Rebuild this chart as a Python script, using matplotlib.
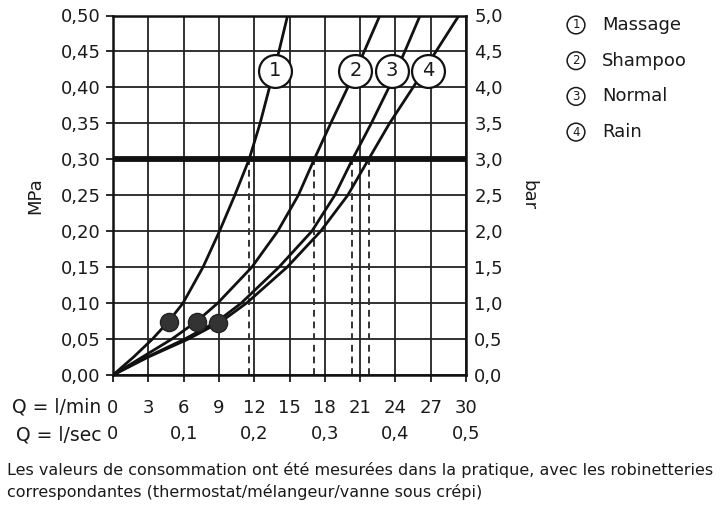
import numpy as np
import matplotlib
matplotlib.use("Agg")
import matplotlib.pyplot as plt
from matplotlib import transforms

# ---------------- data ----------------
series_names = ["Massage", "Shampoo", "Normal", "Rain"]
series_ids = ["1", "2", "3", "4"]

pressure_mpa = [0.0, 0.025, 0.05, 0.075, 0.10, 0.15, 0.20, 0.25, 0.30, 0.35, 0.40, 0.45, 0.50]
flow_massage = [0.0, 1.75, 3.35, 4.75, 5.95, 7.65, 9.05, 10.35, 11.57, 12.5, 13.3, 14.1, 14.84]
flow_shampoo = [0.0, 2.5, 5.0, 7.15, 8.9, 11.8, 14.0, 15.75, 17.1, 18.5, 19.95, 21.35, 22.68]
flow_normal = [0.0, 2.9, 6.1, 8.9, 10.9, 14.1, 16.9, 18.85, 20.35, 21.95, 23.45, 24.8, 26.1]
flow_rain = [0.0, 3.0, 6.4, 9.25, 11.35, 14.8, 17.65, 19.95, 21.72, 23.5, 25.5, 27.45, 29.4]
flows = [flow_massage, flow_shampoo, flow_normal, flow_rain]

dot_flow = [4.79, 7.17, 8.95]
dot_pressure = [0.074, 0.074, 0.073]

reference_pressure = 0.30
label_pressure = 0.423

q_lmin_ticks = [0, 3, 6, 9, 12, 15, 18, 21, 24, 27, 30]
q_lmin_labels = ["0", "3", "6", "9", "12", "15", "18", "21", "24", "27", "30"]
q_lsec_ticks = [0, 0.1, 0.2, 0.3, 0.4, 0.5]
q_lsec_labels = ["0", "0,1", "0,2", "0,3", "0,4", "0,5"]
mpa_ticks = [0.00, 0.05, 0.10, 0.15, 0.20, 0.25, 0.30, 0.35, 0.40, 0.45, 0.50]
mpa_labels = ["0,00", "0,05", "0,10", "0,15", "0,20", "0,25", "0,30", "0,35", "0,40", "0,45", "0,50"]
bar_ticks = [0.0, 0.5, 1.0, 1.5, 2.0, 2.5, 3.0, 3.5, 4.0, 4.5, 5.0]
bar_labels = ["0,0", "0,5", "1,0", "1,5", "2,0", "2,5", "3,0", "3,5", "4,0", "4,5", "5,0"]

caption = ["Les valeurs de consommation ont été mesurées dans la pratique, avec les robinetteries",
           "correspondantes (thermostat/mélangeur/vanne sous crépi)"]

# ---------------- figure ----------------
W, H = 720, 526
plt.rcParams["font.family"] = ["DejaVu Sans"]
txt = "#1a1a1a"
fig = plt.figure(figsize=(W / 100, H / 100), dpi=100)
L, R, T, B = 113, 466, 15.5, 375
ax = fig.add_axes([L / W, 1 - B / H, (R - L) / W, (B - T) / H])
ax.set_xlim(0, 30)
ax.set_ylim(0, 0.5)

ax.set_xticks(q_lmin_ticks)
ax.set_xticklabels(q_lmin_labels)
ax.set_yticks(mpa_ticks)
ax.set_yticklabels(mpa_labels)
ax.grid(True, color="#222222", linewidth=1.3)
ax.set_axisbelow(True)
for s in ax.spines.values():
    s.set_linewidth(1.8)
    s.set_color("#111111")
ax.tick_params(axis="y", direction="out", length=5, width=1.3, pad=4, labelsize=13, colors=txt)
ax.tick_params(axis="x", direction="out", length=5, width=1.3, pad=12, labelsize=13, colors=txt)

# thick reference line
ax.axhline(reference_pressure, color="#111111", linewidth=4.2, zorder=3)

# curves
for fl in flows:
    ax.plot(fl, pressure_mpa, color="#111111", linewidth=2.0, zorder=4,
            solid_capstyle="round", solid_joinstyle="round")
    qref = np.interp(reference_pressure, pressure_mpa, fl)
    ax.plot([qref, qref], [0, reference_pressure], color="#333333", linewidth=1.4,
            linestyle=(0, (3.5, 2.5)), zorder=2.5)

# dots
ax.scatter(dot_flow, dot_pressure, s=170, color="#333333", edgecolor="#222222", zorder=5)

# circle labels on curves (small horizontal nudges in points)
label_nudge_pt = [1, 0, -3, 3.5]
for fl, sid, dx in zip(flows, series_ids, label_nudge_pt):
    ql = np.interp(label_pressure, pressure_mpa, fl)
    tr = transforms.offset_copy(ax.transData, fig=fig, x=dx, y=0, units="points")
    ax.scatter([ql], [label_pressure], s=560, facecolor="white", edgecolor="#111111",
               linewidth=1.6, zorder=6, transform=tr)
    ax.text(ql, label_pressure, sid, ha="center", va="center", fontsize=14, color=txt,
            zorder=7, transform=tr)

ax.set_ylabel("MPa", fontsize=13, color=txt, va="center")
ax.yaxis.set_label_coords((35 - L) / (R - L), 0.5)

# right axis (bar)
ax2 = ax.twinx()
ax2.set_ylim(0, 5)
ax2.set_yticks(bar_ticks)
ax2.set_yticklabels(bar_labels)
ax2.tick_params(axis="y", length=0, pad=6, labelsize=13, colors=txt)
ax2.set_ylabel("bar", fontsize=13, color=txt, rotation=270, va="center")
ax2.yaxis.set_label_coords((528 - L) / (R - L), 0.5)
for s in ax2.spines.values():
    s.set_visible(False)

# secondary l/sec axis
sec = ax.secondary_xaxis(0, functions=(lambda x: x / 60.0, lambda x: x * 60.0))
sec.set_xticks(q_lsec_ticks)
sec.set_xticklabels(q_lsec_labels)
sec.tick_params(length=0, pad=36, labelsize=13, colors=txt)
sec.spines["bottom"].set_visible(False)

fig.text(101 / W, 1 - 407 / H, "Q = l/min", ha="right", va="center", fontsize=13.5, color=txt)
fig.text(101 / W, 1 - 435 / H, "Q = l/sec", ha="right", va="center", fontsize=13.5, color=txt)

# legend
for i, (sid, name) in enumerate(zip(series_ids, series_names)):
    y = 1 - (25 + i * 35.7) / H
    fig.text(576 / W, y, sid, ha="center", va="center", fontsize=8.5, color=txt,
             bbox=dict(boxstyle="circle,pad=0.2", facecolor="white", edgecolor=txt, linewidth=1.1))
    fig.text(602 / W, y, name, ha="left", va="center", fontsize=13, color=txt)

# caption
fig.text(7 / W, 1 - 470 / H, caption[0], ha="left", va="center", fontsize=11.5, color=txt)
fig.text(7 / W, 1 - 492 / H, caption[1], ha="left", va="center", fontsize=11.5, color=txt)

fig.savefig("out.png", dpi=100, facecolor="white")
